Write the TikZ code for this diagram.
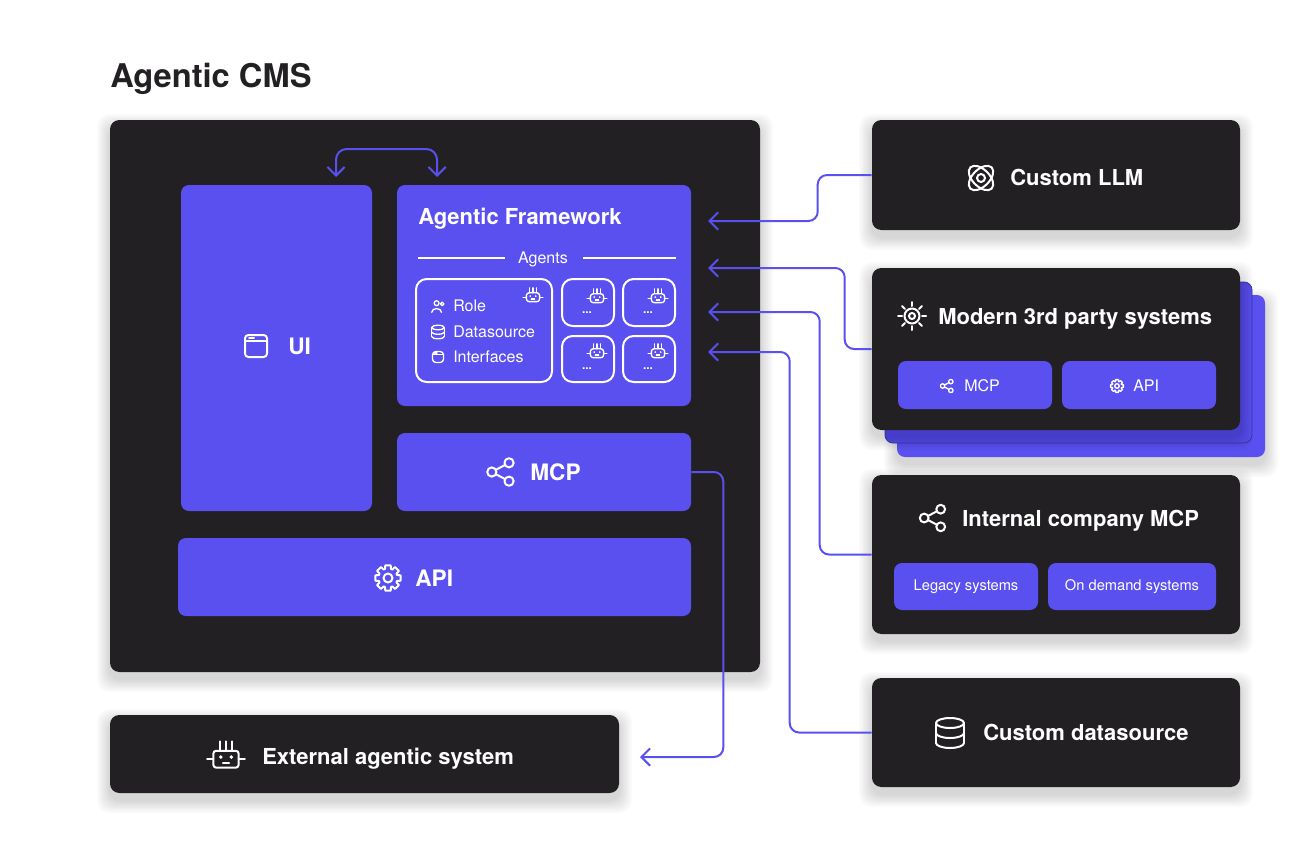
\documentclass[tikz,border=0pt]{standalone}
\usepackage{fontspec}
\setmainfont{TeX Gyre Heros}
\usetikzlibrary{arrows.meta,fit}
\definecolor{ink}{RGB}{34,32,35}
\definecolor{vio}{RGB}{90,80,240}
\definecolor{vdark}{RGB}{60,52,170}
\newcommand\softshade[4]{%
  \foreach \i in {1,...,10}{%
    \fill[black,opacity=0.016,rounded corners=9pt] ({#1-\i*1.3},{#2-\i*1.3+7}) rectangle ({#3+\i*1.3},{#4+\i*1.3+7});}}
\tikzset{
  dark/.style={fill=ink, rounded corners=7pt, inner sep=0pt},
  purp/.style={fill=vio, rounded corners=6pt, inner sep=0pt},
  card/.style={draw=white, line width=1.5pt, rounded corners=8pt, inner sep=0pt},
  conn/.style={draw=vio, line width=1.5pt, rounded corners=7pt, -{Straight Barb[length=6.5pt,width=13pt,line width=1.5pt]}},
  conn2/.style={draw=vio, line width=1.5pt, rounded corners=8pt, {Straight Barb[length=6.5pt,width=13pt,line width=1.5pt]}-{Straight Barb[length=6.5pt,width=13pt,line width=1.5pt]}},
  maintitle/.style={text=ink, font=\bfseries\fontsize{24.5}{28}\selectfont, inner sep=0pt, anchor=base west},
  ttl/.style={text=white, font=\bfseries\fontsize{16.5}{19}\selectfont, inner sep=0pt, anchor=base west},
  big/.style={text=white, font=\bfseries\fontsize{17}{19}\selectfont, inner sep=0pt, anchor=base west},
  sml/.style={text=white, font=\fontsize{12}{14}\selectfont, inner sep=0pt},
  dots/.style={text=white, font=\bfseries\fontsize{9}{10}\selectfont, inner sep=0pt},
  ico/.style={white, line width=1.5pt, line cap=round, line join=round},
  icos/.style={white, line width=1pt, line cap=round, line join=round},
  pics/robot/.style={code={
    \draw[rounded corners=2pt] (-12,-4) rectangle (12,12);
    \draw (-6,-4) -- (-6,-13) (0,-4) -- (0,-13) (6,-4) -- (6,-13);
    \draw (-12,4) -- (-18,4) (12,4) -- (18,4);
    \fill (-5,2) circle (1.8) (5,2) circle (1.8);
    \draw (-3,7.5) -- (3,7.5);
  }},
  pics/atom/.style={code={
    \draw[rotate=45] (0,0) ellipse (15 and 8.5);
    \draw[rotate=-45] (0,0) ellipse (15 and 8.5);
    \draw (0,0) circle (4);
  }},
  pics/sun/.style={code={
    \draw (0,0) circle (3);
    \draw (0,0) circle (7.5);
    \foreach \a in {0,45,...,315} \draw (\a:10) -- (\a:14);
  }},
  pics/share/.style={code={
    \draw (-8,0) circle (4) (7,-8) circle (4) (7,8) circle (4);
    \draw (-4.47,-1.88) -- (3.47,-6.12) (-4.47,1.88) -- (3.47,6.12);
  }},
  pics/gear/.style={code={
    \draw (-12:13) \foreach \a in {0,45,...,315}{ -- (\a-12:13) -- (\a+12:13) -- (\a+18:9.5) -- (\a+27:9.5) } -- cycle;
    \draw (0,0) circle (4.5);
  }},
  pics/window/.style={code={
    \draw[rounded corners=2.5pt] (-11,-11) rectangle (11,11);
    \draw (-11,-5) -- (11,-5);
    \draw (-7,-8) -- (-2,-8);
  }},
  pics/db/.style={code={
    \draw (0,-10) ellipse (14 and 5);
    \draw (-14,-10) -- (-14,10) (14,-10) -- (14,10);
    \draw (-14,0) arc[start angle=180, end angle=0, x radius=14, y radius=5];
    \draw (-14,10) arc[start angle=180, end angle=0, x radius=14, y radius=5];
  }},
  pics/person/.style={code={
    \draw (-2,-4) circle (3.5);
    \draw (-9,9) .. controls (-9,2) and (5,2) .. (5,9);
    \draw (6,-3) circle (2.5);
  }},
}
\begin{document}
\begin{tikzpicture}[x=0.75pt,y=-0.75pt]
\fill[white] (0,0) rectangle (1316,864);
\useasboundingbox (0,0) rectangle (1316,864);

% ---- soft shadows
\softshade{110}{120}{760}{672}
\softshade{110}{715}{619}{793}
\softshade{872}{120}{1240}{230}
\softshade{897}{295}{1265}{457}
\softshade{872}{475}{1240}{634}
\softshade{872}{678}{1240}{787}

% ---- title
\node[maintitle] (title) at (110,87) {Agentic CMS};

% ---- CMS block
\node[dark,fit={(110,120)(760,672)}] (cms) {};
\node[purp,fit={(181,185)(372,511)}] (ui) {};
\node[purp,fit={(397,185)(691,406)}] (fw) {};
\node[purp,fit={(397,433)(691,511)}] (mcp) {};
\node[purp,fit={(178,538)(691,616)}] (api) {};

\pic[ico] at (256,346) {window};
\node[big] (uil) at (288,354) {UI};
\pic[ico,scale=1.15] at (501,472) {share};
\node[big] (mcpl) at (530,480) {MCP};
\pic[ico] at (388,578) {gear};
\node[big] (apil) at (415,586) {API};

\node[ttl] (fwl) at (418,224) {Agentic Framework};
\node[sml,anchor=base] (agl) at (543,263) {Agents};
\draw[white,line width=1.1pt] (418,258) -- (505,258);
\draw[white,line width=1.1pt] (583,258) -- (676,258);

\node[card,fit={(416,279)(552,382)}] (ag0) {};
\node[card,fit={(562,279)(614,326)}] (ag1) {};
\node[card,fit={(623,279)(675,326)}] (ag2) {};
\node[card,fit={(562,336)(614,382)}] (ag3) {};
\node[card,fit={(623,336)(675,382)}] (ag4) {};

\pic[icos,scale=0.55] at (533,295) {robot};
\pic[icos,scale=0.55] at (597,296) {robot};
\pic[icos,scale=0.55] at (658,296) {robot};
\pic[icos,scale=0.55] at (597,351) {robot};
\pic[icos,scale=0.55] at (658,351) {robot};
\node[dots] (d1) at (587,313) {...};
\node[dots] (d2) at (648,313) {...};
\node[dots] (d3) at (587,369) {...};
\node[dots] (d4) at (648,369) {...};

\pic[icos,scale=0.7] at (438,306) {person};
\pic[icos,scale=0.45] at (438,332) {db};
\pic[icos,scale=0.5] at (438,357) {window};
\node[sml,anchor=base west] (r1) at (453,311) {Role};
\node[sml,anchor=base west] (r2) at (453,337) {Datasource};
\node[sml,anchor=base west] (r3) at (453,362) {Interfaces};

% ---- external
\node[dark,fit={(110,715)(619,793)}] (ext) {};
\pic[ico,scale=1.05] at (226,755) {robot};
\node[ttl] (extl) at (262,764) {External agentic system};

% ---- right column
\node[dark,fit={(872,120)(1240,230)}] (llm) {};
\pic[ico] at (981,178) {atom};
\node[ttl] (llml) at (1010,185) {Custom LLM};

\node[purp,fit={(897,295)(1265,457)}] (tpb2) {};
\node[purp,draw=vdark,line width=0.6pt,fit={(885,282)(1252,443)}] (tpb1) {};
\softshade{872}{268}{1240}{430}
\node[dark,fit={(872,268)(1240,430)}] (tp) {};
\pic[ico] at (912,316) {sun};
\node[ttl] (tpl) at (938,324) {Modern 3rd party systems};
\node[purp,fit={(898,361)(1052,409)}] (tpm) {};
\node[purp,fit={(1062,361)(1216,409)}] (tpa) {};
\pic[icos,scale=0.55] at (947,386) {share};
\node[sml,anchor=base west] (tpml) at (964,391) {MCP};
\pic[icos,scale=0.5] at (1117,386) {gear};
\node[sml,anchor=base west] (tpal) at (1133,391) {API};

\node[dark,fit={(872,475)(1240,634)}] (im) {};
\pic[ico,scale=1.1] at (933,518) {share};
\node[ttl] (iml) at (962,526) {Internal company MCP};
\node[purp,fit={(894,563)(1038,610)}] (leg) {};
\node[purp,fit={(1048,563)(1216,610)}] (ond) {};
\node[sml,font=\fontsize{11}{13}\selectfont] (legl) at (leg) {Legacy systems};
\node[sml,font=\fontsize{11}{13}\selectfont] (ondl) at (ond) {On demand systems};

\node[dark,fit={(872,678)(1240,787)}] (ds) {};
\pic[ico] at (950,733) {db};
\node[ttl] (dsl) at (983,740) {Custom datasource};

% ---- connectors
\coordinate (t1) at (708,221);
\coordinate (t2) at (708,268);
\coordinate (t3) at (708,312);
\coordinate (t4) at (708,352);
\coordinate (t5) at (640,757);
\coordinate (u1) at (336,177);
\coordinate (u2) at (437,177);

\draw[conn] (llm.west) -- ++(-54,0) |- (t1);
\draw[conn] (tp.west) -- ++(-27,0) |- (t2);
\draw[conn] (im.west) -- ++(-52,0) |- (t3);
\draw[conn] (ds.west) -- ++(-82,0) |- (t4);
\draw[conn] (mcp.east) -- ++(32,0) |- (t5);
\draw[conn2] (u1) -- ++(0,-28) -| (u2);
\end{tikzpicture}
\end{document}
